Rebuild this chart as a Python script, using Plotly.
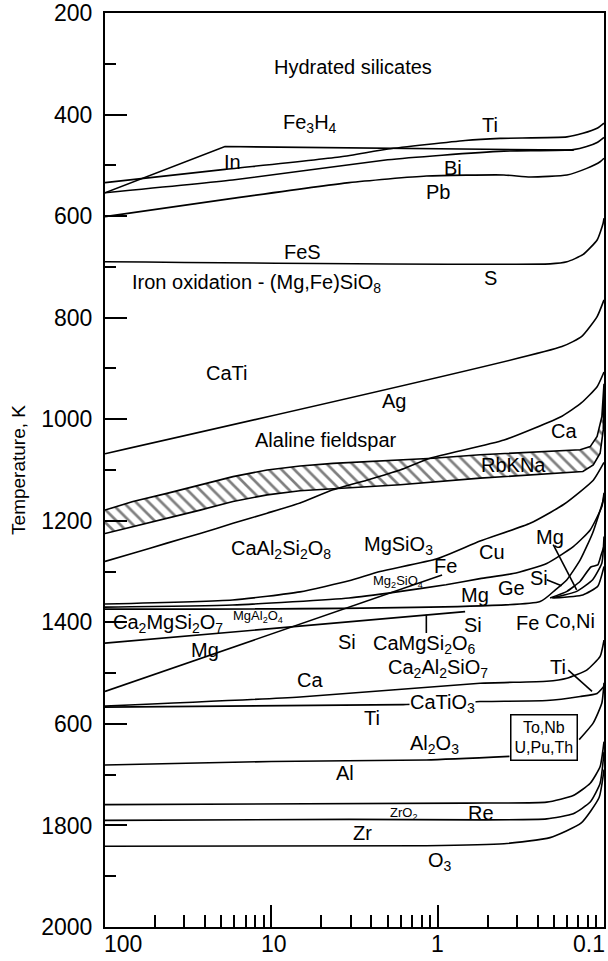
import math
import plotly.graph_objects as go

# ---------------- data: pressure (x) and temperature in K (y) ----------------
TI_P = [100, 19, 3.81, 1.99, 0.684, 0.421, 0.167, 0.134, 0.110, 0.1]
TI_T = [534, 508, 483, 468, 451, 447, 444, 437, 427, 417]

IN_P = [100, 19, 0.152]
IN_T = [554, 463, 470]

BI_P = [100, 17.1, 2.0, 0.94, 0.40, 0.153, 0.127, 0.110, 0.1]
BI_T = [554, 529, 489, 480, 472, 469, 463, 455, 445]

PB_P = [100, 17.1, 3.41, 1.17, 0.40, 0.278, 0.167, 0.127, 0.1055, 0.1]
PB_T = [601, 565, 534, 521, 519, 523, 519, 506, 493, 486]

FES_P = [100, 0.211, 0.167, 0.134, 0.110, 0.1012, 0.1]
FES_T = [690, 694, 690, 676, 647, 614, 604]

AG_P = [100, 0.179, 0.136, 0.110, 0.1]
AG_T = [1068, 857, 837, 798, 765]

CA_P = [100, 67.9, 42.4, 26.8, 17.0, 10.6, 6.72, 4.26, 2.67, 1.68, 1.11, 0.399, 0.179, 0.137, 0.110, 0.1]
CA_T = [1280, 1264, 1244, 1225, 1205, 1185, 1165, 1139, 1120, 1100, 1077, 1041, 994, 968, 936, 907]

RBKNA_TOP_P = [100, 67.9, 42.4, 26.8, 17.0, 10.6, 6.72, 4.26, 2.67, 1.68, 1.066, 0.556, 0.139, 0.121, 0.110, 0.103, 0.1]
RBKNA_TOP_T = [1179, 1162, 1146, 1129, 1113, 1100, 1092, 1087, 1084, 1081, 1077, 1070, 1060, 1054, 1034, 995, 930]
RBKNA_BOT_P = [100, 67.9, 42.4, 26.8, 17.0, 10.6, 6.72, 4.26, 2.67, 1.68, 0.556, 0.134, 0.116, 0.1055, 0.101, 0.1]
RBKNA_BOT_T = [1225, 1211, 1195, 1179, 1162, 1149, 1141, 1136, 1133, 1129, 1116, 1103, 1090, 1067, 1021, 955]

MGSIO3_P = [100, 17.1, 6.72, 3.41, 2.22, 1.01, 0.556, 0.278, 0.175, 0.116, 0.1]
MGSIO3_T = [1364, 1356, 1340, 1318, 1300, 1275, 1240, 1205, 1168, 1120, 1085]

CU_P = [100, 17.1, 3.41, 1.75, 0.891, 0.556, 0.352, 0.221, 0.153, 0.121, 0.103, 0.1]
CU_T = [1370, 1366, 1352, 1340, 1326, 1314, 1304, 1284, 1251, 1218, 1172, 1145]

MGFE_P = [100, 0.242, 0.196, 0.167, 0.139, 0.117, 0.101, 0.1]
MGFE_T = [1374, 1359, 1336, 1316, 1277, 1224, 1159, 1150]

FAN2_P = [0.211, 0.167, 0.139, 0.120, 0.109, 0.104, 0.1]
FAN2_T = [1352, 1339, 1319, 1291, 1287, 1267, 1250]
FAN3_P = [0.206, 0.146, 0.117, 0.103, 0.1]
FAN3_T = [1352, 1339, 1316, 1283, 1231]
FAN4_P = [0.202, 0.134, 0.109, 0.1]
FAN4_T = [1352, 1346, 1329, 1290]
SI_TAIL_P = [0.221, 0.180]
SI_TAIL_T = [1316, 1328]
MG_SLANT_P = [0.202, 0.146]
MG_SLANT_T = [1247, 1336]

MG_LINE_P = [100, 0.941]
MG_LINE_T = [1536, 1307]

CA2MG_P = [100, 0.684]
CA2MG_T = [1441, 1379]

POINTER_P = [1.17, 1.17]
POINTER_T = [1385, 1421]

CA2AL_P = [100, 6.72, 0.556, 0.221, 0.167, 0.127, 0.1055, 0.1]
CA2AL_T = [1565, 1547, 1520, 1516, 1510, 1494, 1467, 1435]

CATIO3_P = [100, 1.61, 0.556, 0.221, 0.139, 0.110, 0.1]
CATIO3_T = [1567, 1562, 1556, 1554, 1546, 1540, 1526]

TI_SLANT_P = [0.164, 0.118]
TI_SLANT_T = [1494, 1536]

BOX_LINK_P = [0.141, 0.116, 0.103, 0.1]
BOX_LINK_T = [1631, 1598, 1559, 1519]

AL_P = [100, 10, 1.17, 0.37]
AL_T = [1681, 1674, 1671, 1664]

ZRO2_P = [100, 0.684, 0.221, 0.153, 0.121, 0.1055, 0.1]
ZRO2_T = [1759, 1756, 1754, 1741, 1717, 1684, 1635]

RE_P = [100, 3.41, 0.556, 0.221, 0.153, 0.121, 0.1055, 0.1]
RE_T = [1790, 1788, 1789, 1787, 1777, 1754, 1717, 1655]

O3_P = [100, 1.17, 0.399, 0.211, 0.137, 0.107, 0.1]
O3_T = [1841, 1840, 1836, 1824, 1795, 1745, 1690]

# labels (text, pressure, temperature)
LABEL_TEXT = ["Hydrated silicates", "Fe<sub>3</sub>H<sub>4</sub>", "Ti", "In", "Bi", "Pb",
              "FeS", "S", "CaTi", "Ag", "Alaline fieldspar", "Ca", "RbKNa",
              "CaAl<sub>2</sub>Si<sub>2</sub>O<sub>8</sub>", "MgSiO<sub>3</sub>", "Cu", "Mg", "Fe",
              "Ge", "Si", "Mg", "Co,Ni", "Fe", "Si", "Si", "CaMgSi<sub>2</sub>O<sub>6</sub>", "Mg",
              "Ca<sub>2</sub>Al<sub>2</sub>SiO<sub>7</sub>", "Ti", "Ca", "Ti",
              "Al<sub>2</sub>O<sub>3</sub>", "Al", "Re", "Zr", "O<sub>3</sub>"]
LABEL_P = [3.23, 5.85, 0.484, 17.1, 0.808, 0.995,
           6.54, 0.484, 18.6, 1.83, 4.72, 0.174, 0.35,
           8.75, 1.73, 0.47, 0.211, 0.895,
           0.36, 0.246, 0.60, 0.16, 0.29, 0.612, 3.51, 1.2, 24.9,
           0.995, 0.189, 5.85, 2.48,
           1.05, 3.6, 0.55, 2.83, 0.97]
LABEL_T = [306, 417, 420, 493, 505, 552,
           671, 722, 909, 965, 1041, 1024, 1090,
           1257, 1248, 1261, 1231, 1290,
           1333, 1313, 1346, 1398, 1402, 1405, 1438, 1444, 1454,
           1490, 1487, 1513, 1589,
           1641, 1697, 1776, 1815, 1871]

SMALL_TEXT = ["Mg<sub>2</sub>SiO<sub>4</sub>", "MgAl<sub>2</sub>O<sub>4</sub>", "ZrO<sub>2</sub>"]
SMALL_P = [1.73, 12.1, 1.61]
SMALL_T = [1320, 1389, 1776]

LEFT_TEXT = ["Iron oxidation - (Mg,Fe)SiO<sub>8</sub>", "Ca<sub>2</sub>MgSi<sub>2</sub>O<sub>7</sub>"]
LEFT_P = [70.8, 92.6]
LEFT_T = [732, 1402]

CATIO3_LABEL = ("CaTiO<sub>3</sub>", 0.94, 1559)
BOX_LABEL = ("To,Nb<br>U,Pu,Th", 0.229, 1626)

Y_TICKS = [200, 400, 600, 800, 1000, 1200, 1400, 1600, 1800, 2000]
Y_TICK_TEXT = ["200", "400", "600", "800", "1000", "1200", "1400", "600", "1800", "2000"]
Y_MINOR = [300, 500, 700, 900, 1100, 1300, 1500, 1700, 1900]
X_TICKS = [100, 10, 1, 0.1]
X_TICK_TEXT = ["100", "10", "1", "0.1"]
X_MINOR = [d / k for d in (100, 10, 1) for k in range(2, 10)]

FONT = "Liberation Sans, Arial, sans-serif"

fig = go.Figure()


def add_line(p, t, width=1.6, shape="spline"):
    fig.add_trace(go.Scatter(x=p, y=t, mode="lines",
                             line=dict(color="black", width=width, shape=shape, smoothing=0.5),
                             hoverinfo="skip", showlegend=False))


# hatched RbKNa band
fig.add_trace(go.Scatter(x=RBKNA_TOP_P + RBKNA_BOT_P[::-1], y=RBKNA_TOP_T + RBKNA_BOT_T[::-1],
                         mode="lines", fill="toself",
                         fillcolor="white",
                         fillpattern=dict(shape="\\", size=9, solidity=0.3, fgcolor="black", bgcolor="white"),
                         line=dict(color="black", width=1.6),
                         hoverinfo="skip", showlegend=False))

add_line(IN_P, IN_T, shape="linear")
for p, t in [(TI_P, TI_T), (BI_P, BI_T), (PB_P, PB_T), (FES_P, FES_T),
             (AG_P, AG_T), (CA_P, CA_T), (MGSIO3_P, MGSIO3_T), (CU_P, CU_T), (MGFE_P, MGFE_T),
             (FAN2_P, FAN2_T), (FAN3_P, FAN3_T), (FAN4_P, FAN4_T), (SI_TAIL_P, SI_TAIL_T),
             (MG_SLANT_P, MG_SLANT_T), (MG_LINE_P, MG_LINE_T), (CA2MG_P, CA2MG_T),
             (POINTER_P, POINTER_T), (CA2AL_P, CA2AL_T), (CATIO3_P, CATIO3_T),
             (TI_SLANT_P, TI_SLANT_T), (BOX_LINK_P, BOX_LINK_T), (AL_P, AL_T),
             (ZRO2_P, ZRO2_T), (RE_P, RE_T), (O3_P, O3_T)]:
    add_line(p, t)

ann = []
for txt, p, t in zip(LABEL_TEXT, LABEL_P, LABEL_T):
    ann.append(dict(text=txt, x=math.log10(p), y=t, xref="x", yref="y", showarrow=False,
                    font=dict(size=20, color="black", family=FONT)))
for txt, p, t in zip(SMALL_TEXT, SMALL_P, SMALL_T):
    ann.append(dict(text=txt, x=math.log10(p), y=t, xref="x", yref="y", showarrow=False,
                    font=dict(size=13, color="black", family=FONT)))
for txt, p, t in zip(LEFT_TEXT, LEFT_P, LEFT_T):
    ann.append(dict(text=txt, x=math.log10(p), y=t, xref="x", yref="y", showarrow=False,
                    xanchor="left", font=dict(size=20, color="black", family=FONT)))
ann.append(dict(text=CATIO3_LABEL[0], x=math.log10(CATIO3_LABEL[1]), y=CATIO3_LABEL[2],
                xref="x", yref="y", showarrow=False, bgcolor="white", borderpad=0,
                font=dict(size=20, color="black", family=FONT)))
ann.append(dict(text=BOX_LABEL[0], x=math.log10(BOX_LABEL[1]), y=BOX_LABEL[2],
                xref="x", yref="y", showarrow=False, bgcolor="white", bordercolor="black",
                borderwidth=1.5, borderpad=3,
                font=dict(size=16, color="black", family=FONT)))
# x tick labels
anchors = ["left", "center", "center", "right"]
shifts = [-3, 3, 0, 3]
for txt, v, a, s in zip(X_TICK_TEXT, X_TICKS, anchors, shifts):
    ann.append(dict(text=txt, x=math.log10(v), y=0, xref="x", yref="paper", yanchor="top",
                    xanchor=a, xshift=s, yshift=-2, showarrow=False,
                    font=dict(size=23, color="black", family=FONT)))

fig.update_layout(
    width=608, height=961,
    margin=dict(l=105, r=4, t=13, b=34),
    paper_bgcolor="white", plot_bgcolor="white",
    font=dict(family=FONT, color="black"),
    annotations=ann,
    xaxis=dict(type="log", range=[2, -1], showgrid=False, zeroline=False,
               showline=True, mirror=True, linecolor="black", linewidth=2,
               tickmode="array", tickvals=X_TICKS, ticktext=["", "", "", ""],
               ticks="inside", ticklen=22, tickwidth=1.5, tickcolor="black",
               minor=dict(tickmode="array", tickvals=X_MINOR, ticks="inside", ticklen=12,
                          tickwidth=1.5, tickcolor="black", showgrid=False),
               automargin=False),
    yaxis=dict(range=[2000, 200], showgrid=False, zeroline=False,
               showline=True, mirror=True, linecolor="black", linewidth=2,
               tickmode="array", tickvals=Y_TICKS, ticktext=Y_TICK_TEXT,
               ticks="inside", ticklen=22, tickwidth=1.5, tickcolor="black",
               tickfont=dict(size=23, color="black", family=FONT),
               ticklabelstandoff=6,
               minor=dict(tickmode="array", tickvals=Y_MINOR, ticks="inside", ticklen=11,
                          tickwidth=1.5, tickcolor="black", showgrid=False),
               title=dict(text="Temperature, K", font=dict(size=19, color="black", family=FONT),
                          standoff=11),
               automargin=False),
)

fig.write_html("out.html", config={"displayModeBar": False},
               post_script="document.body.style.margin='0';document.body.style.overflow='hidden';")
